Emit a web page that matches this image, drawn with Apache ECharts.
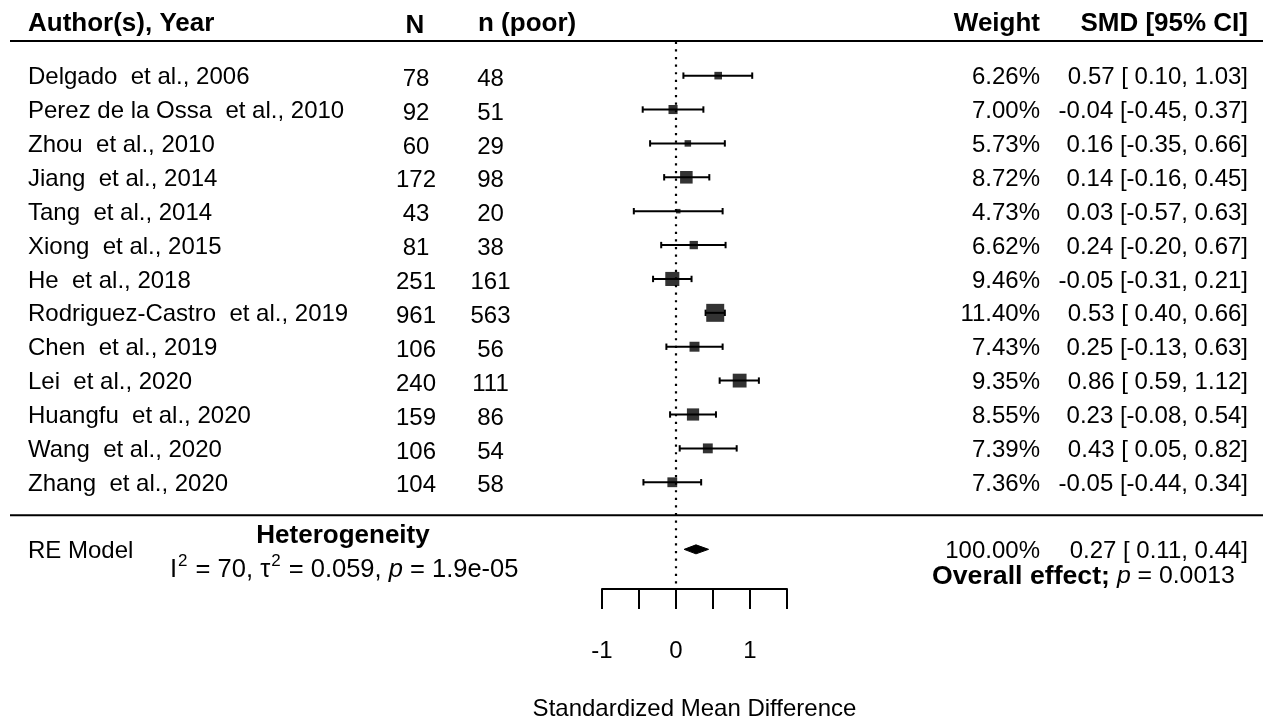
<!DOCTYPE html>
<html>
<head>
<meta charset="utf-8">
<script src="https://cdn.jsdelivr.net/npm/echarts@6/dist/echarts.min.js"></script>
<style>
  html, body { margin: 0; padding: 0; background: #fff; }
  #chart { width: 1263px; height: 726px; }
</style>
</head>
<body>
<div id="chart"></div>
<script>
// Forest plot data: one entry per study
const studies = [
  'Delgado  et al., 2006',
  'Perez de la Ossa  et al., 2010',
  'Zhou  et al., 2010',
  'Jiang  et al., 2014',
  'Tang  et al., 2014',
  'Xiong  et al., 2015',
  'He  et al., 2018',
  'Rodriguez-Castro  et al., 2019',
  'Chen  et al., 2019',
  'Lei  et al., 2020',
  'Huangfu  et al., 2020',
  'Wang  et al., 2020',
  'Zhang  et al., 2020'
];
const totalN  = [78, 92, 60, 172, 43, 81, 251, 961, 106, 240, 159, 106, 104];
const poorN   = [48, 51, 29, 98, 20, 38, 161, 563, 56, 111, 86, 54, 58];
const weights = [6.26, 7.00, 5.73, 8.72, 4.73, 6.62, 9.46, 11.40, 7.43, 9.35, 8.55, 7.39, 7.36];
const smd     = [0.57, -0.04, 0.16, 0.14, 0.03, 0.24, -0.05, 0.53, 0.25, 0.86, 0.23, 0.43, -0.05];
const ciLow   = [0.10, -0.45, -0.35, -0.16, -0.57, -0.20, -0.31, 0.40, -0.13, 0.59, -0.08, 0.05, -0.44];
const ciHigh  = [1.03, 0.37, 0.66, 0.45, 0.63, 0.67, 0.21, 0.66, 0.63, 1.12, 0.54, 0.82, 0.34];

// Random-effects summary: estimate, lower, upper, weight (%)
const pooled = [0.27, 0.11, 0.44, 100.00];
const pooledRow = 13.98;

// Axis ticks and which of them carry a label
const tickLabels = [-1, 0, 1];

const FONT = "'Liberation Sans', Arial, sans-serif";
const BODY = 24;
const HEAD = 26;
const DY = 2; // baseline nudge for table text

// column anchors (pixels)
const COL_AUTHOR = 28, COL_N = 416, COL_POOR = 490.5, COL_W = 1040, COL_SMD = 1248;

function fmt(v) { return v.toFixed(2); }
function signPad(v) { return v < 0 ? fmt(v) : ' ' + fmt(v); }
function ciText(est, lo, hi) { return fmt(est) + ' [' + signPad(lo) + ', ' + fmt(hi) + ']'; }
function boxSize(w) { return 4.5 + (w - 4.73) * 2.02; }

function txt(x, y, text, opts) {
  return {
    type: 'text', x: x, y: y + DY, silent: true,
    style: Object.assign({
      text: text, fontFamily: FONT, fontSize: BODY, fill: '#000',
      align: 'left', verticalAlign: 'middle'
    }, opts || {})
  };
}

const chart = echarts.init(document.getElementById('chart'), null, { renderer: 'canvas' });

chart.setOption({
  animation: false,
  backgroundColor: '#fff',
  grid: { left: 602, right: 476, top: 41.75, bottom: 131, containLabel: false },
  xAxis: {
    type: 'value', min: -1, max: 1.5, interval: 0.5,
    axisLine: { show: true, onZero: false, lineStyle: { color: '#000', width: 2 } },
    axisTick: { show: true, inside: false, length: 20, lineStyle: { color: '#000', width: 2 } },
    axisLabel: {
      margin: 50, fontFamily: FONT, fontSize: BODY, color: '#000',
      formatter: v => tickLabels.includes(v) ? String(v) : ''
    },
    splitLine: { show: false },
    name: 'Standardized Mean Difference', nameLocation: 'middle', nameGap: 108,
    nameTextStyle: { fontFamily: FONT, fontSize: BODY, color: '#000' }
  },
  yAxis: { type: 'value', min: -1, max: 15.15, inverse: true, show: false },
  series: [
    // vertical reference line at zero
    {
      type: 'line', silent: true, symbol: 'none',
      data: [[0, -1], [0, 15.15]],
      lineStyle: { color: '#000', width: 2.2, type: [2.2, 5.4] }
    },
    // horizontal rules (under the header, above the summary)
    {
      type: 'custom', silent: true,
      data: [[0, -1.02], [0, 12.97]],
      encode: { x: 0, y: 1 },
      renderItem: (params, api) => {
        const y = api.coord([0, api.value(1)])[1];
        return { type: 'line', shape: { x1: 10, y1: y, x2: 1263, y2: y }, style: { stroke: '#000', lineWidth: 2 } };
      }
    },
    // confidence intervals with end caps
    {
      type: 'custom', silent: true,
      data: smd.map((v, i) => [i, ciLow[i], ciHigh[i]]),
      encode: { x: [1, 2], y: 0 },
      renderItem: (params, api) => {
        const row = api.value(0);
        const a = api.coord([api.value(1), row]);
        const b = api.coord([api.value(2), row]);
        const st = { stroke: '#000', lineWidth: 2 };
        return {
          type: 'group', children: [
            { type: 'line', shape: { x1: a[0], y1: a[1], x2: b[0], y2: b[1] }, style: st },
            { type: 'line', shape: { x1: a[0], y1: a[1] - 3.2, x2: a[0], y2: a[1] + 3.2 }, style: st },
            { type: 'line', shape: { x1: b[0], y1: b[1] - 3.2, x2: b[0], y2: b[1] + 3.2 }, style: st }
          ]
        };
      }
    },
    // point estimates, sized by weight
    {
      type: 'scatter', silent: true, symbol: 'rect',
      data: smd.map((v, i) => [v, i]),
      symbolSize: (val, p) => boxSize(weights[p.dataIndex]),
      itemStyle: { color: '#000' }
    },
    // pooled estimate diamond
    {
      type: 'custom', silent: true,
      data: [[pooled[0], pooled[1], pooled[2], pooledRow]],
      encode: { x: [0, 1, 2], y: 3 },
      renderItem: (params, api) => {
        const row = api.value(3);
        const c = api.coord([api.value(0), row]);
        const l = api.coord([api.value(1), row]);
        const r = api.coord([api.value(2), row]);
        const h = 4.5;
        return {
          type: 'polygon',
          shape: { points: [[l[0], l[1]], [c[0], c[1] - h], [r[0], r[1]], [c[0], c[1] + h]] },
          style: { fill: '#000', stroke: '#000', lineWidth: 1 }
        };
      }
    },
    // study rows: text columns
    {
      type: 'custom', silent: true,
      data: studies.map((s, i) => [0, i]),
      encode: { x: 0, y: 1 },
      renderItem: (params, api) => {
        const i = params.dataIndex;
        const y = api.coord([0, api.value(1)])[1];
        return {
          type: 'group', children: [
            txt(COL_AUTHOR, y, studies[i]),
            txt(COL_N, y + 1.5, String(totalN[i]), { align: 'center' }),
            txt(COL_POOR, y + 1.5, String(poorN[i]), { align: 'center' }),
            txt(COL_W, y, weights[i].toFixed(2) + '%', { align: 'right' }),
            txt(COL_SMD, y, ciText(smd[i], ciLow[i], ciHigh[i]), { align: 'right' })
          ]
        };
      }
    },
    // header and summary text
    {
      type: 'custom', silent: true,
      data: [[0, -1.58, pooledRow]],
      encode: { x: 0, y: [1, 2] },
      renderItem: (params, api) => {
        const yh = api.coord([0, api.value(1)])[1];
        const ys = api.coord([0, api.value(2)])[1];
        const bold = { fontWeight: 'bold', fontSize: HEAD };
        return {
          type: 'group', children: [
            txt(COL_AUTHOR, yh, 'Author(s), Year', bold),
            txt(415, yh + 1.5, 'N', Object.assign({ align: 'center' }, bold)),
            txt(478, yh, 'n (poor)', bold),
            txt(COL_W, yh, 'Weight', Object.assign({ align: 'right' }, bold)),
            txt(COL_SMD, yh, 'SMD [95% CI]', Object.assign({ align: 'right' }, bold)),
            txt(COL_AUTHOR, ys, 'RE Model'),
            txt(343, ys - 16, 'Heterogeneity', Object.assign({ align: 'center' }, bold)),
            txt(170, ys + 19, 'I{sup|2} = 70, \u03c4{sup|2} = 0.059, {it|p} = 1.9e-05', {
              fontSize: 25.5, lineHeight: 36,
              rich: {
                sup: { fontSize: 17, fontFamily: FONT, fill: '#000', verticalAlign: 'top', lineHeight: 17, padding: [0, 1, 0, 1] },
                it: { fontStyle: 'italic', fontSize: 25.5, fontFamily: FONT, fill: '#000' }
              }
            }),
            txt(COL_W, ys, pooled[3].toFixed(2) + '%', { align: 'right' }),
            txt(COL_SMD, ys, ciText(pooled[0], pooled[1], pooled[2]), { align: 'right' }),
            txt(932, ys + 25, '{b|Overall effect;} {it|p} = 0.0013', {
              fontSize: 24.8,
              rich: {
                b: { fontWeight: 'bold', fontSize: 26.7, fontFamily: FONT, fill: '#000' },
                it: { fontStyle: 'italic', fontSize: 24.8, fontFamily: FONT, fill: '#000' }
              }
            })
          ]
        };
      }
    }
  ]
});
</script>
</body>
</html>
